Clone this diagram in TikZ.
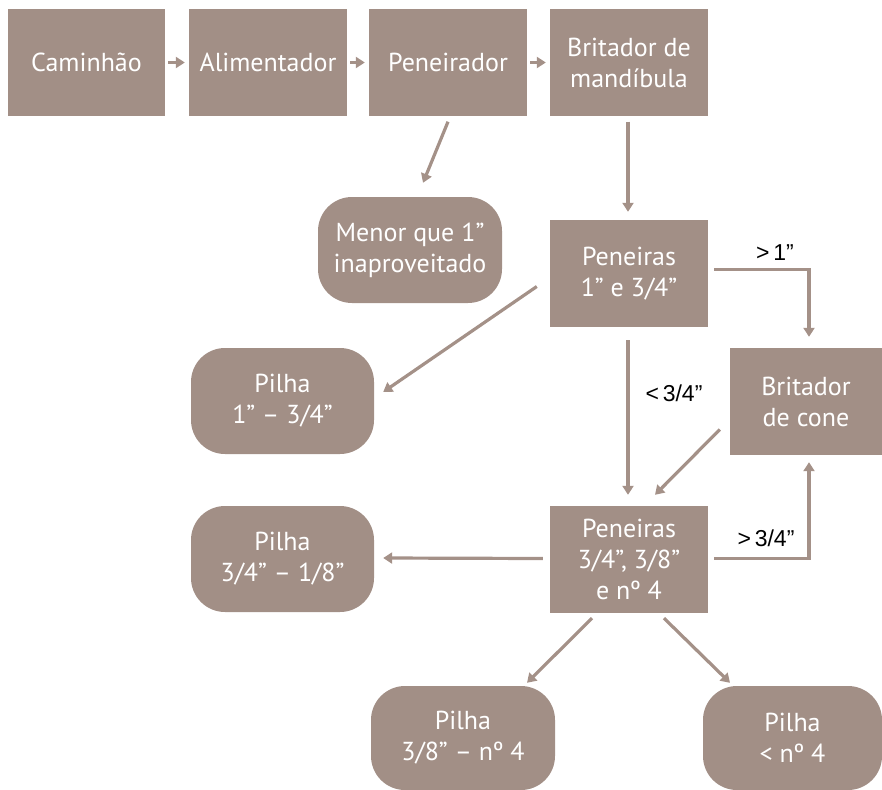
\documentclass[tikz,border=0pt]{standalone}
\usepackage{fontspec}
\setmainfont{PT Sans}
\newfontfamily\lblfont{Liberation Sans}
\usetikzlibrary{arrows.meta}
\definecolor{boxc}{RGB}{162,143,134}
\definecolor{arrc}{RGB}{164,145,136}
\begin{document}
\begin{tikzpicture}[x=1pt,y=-1pt,
  box/.style={rectangle,fill=boxc,text=white,align=center,inner sep=0pt,
    font=\fontsize{26}{31}\selectfont},
  rbox/.style={box,rounded corners=34pt},
  arr/.style={draw=arrc,line width=3.2pt,-{Triangle[length=9pt,width=11pt]}},
  lbl/.style={text=black,font=\lblfont\fontsize{23}{28}\selectfont,inner sep=0pt}]
\useasboundingbox (0,0) rectangle (882,789);
\node[box,minimum width=157pt,minimum height=106pt] (cam) at (86.5,62.5) {Caminhão};
\node[box,minimum width=158pt,minimum height=106pt] (ali) at (268,62.5) {Alimentador};
\node[box,minimum width=158pt,minimum height=106pt] (pen) at (448,62.5) {Peneirador};
\node[box,minimum width=158pt,minimum height=106pt] (brm) at (629,62.5) {Britador de\\mandíbula};
\node[rbox,minimum width=184pt,minimum height=106pt] (menor) at (410,250) {Menor que 1”\\inaproveitado};
\node[box,minimum width=158pt,minimum height=107pt] (pen1) at (629,273.5) {Peneiras\\1” e 3/4”};
\node[rbox,minimum width=183pt,minimum height=106pt] (pil1) at (282.5,401) {Pilha\\1” – 3/4”};
\node[box,minimum width=152pt,minimum height=107pt] (cone) at (806,401.5) {Britador\\de cone};
\node[box,minimum width=158pt,minimum height=107pt] (pen2) at (629,559.5) {Peneiras\\3/4”, 3/8”\\e nº 4};
\node[rbox,minimum width=183pt,minimum height=106pt] (pil2) at (282.5,559) {Pilha\\3/4” – 1/8”};
\node[rbox,minimum width=184pt,minimum height=104pt] (pil3) at (463,738) {Pilha\\3/8” – nº 4};
\node[rbox,minimum width=179pt,minimum height=104pt] (pil4) at (792.5,738) {Pilha\\< nº 4};

\draw[arr] ([xshift=3pt]cam.east) -- ([xshift=-4pt]ali.west);
\draw[arr] ([xshift=3pt]ali.east) -- ([xshift=-4pt]pen.west);
\draw[arr] ([xshift=3pt]pen.east) -- ([xshift=-4pt]brm.west);
\draw[arr] ([yshift=-6pt]pen.south) -- ([xshift=13pt,yshift=14pt]menor.north);
\draw[arr] ([xshift=-1pt,yshift=-6pt]brm.south) -- ([xshift=-1pt,yshift=8pt]pen1.north);
\draw[arr] ([xshift=-13pt,yshift=-13pt]pen1.west) -- ([xshift=9pt,yshift=9pt]pil1.east);
\draw[arr] ([xshift=6pt,yshift=4pt]pen1.east) -| ([xshift=3pt,yshift=11pt]cone.north);
\draw[arr] ([xshift=-1pt,yshift=-13pt]pen1.south) -- ([xshift=-1pt,yshift=11pt]pen2.north);
\draw[arr] ([xshift=-10pt,yshift=-28pt]cone.west) -- ([xshift=26pt,yshift=11pt]pen2.north);
\draw[arr] ([xshift=6pt,yshift=1pt]pen2.east) -| ([xshift=3pt,yshift=-7pt]cone.south);
\draw[arr] ([xshift=-7pt,yshift=1pt]pen2.west) -- ([xshift=9pt,yshift=1pt]pil2.east);
\draw[arr] ([xshift=-37pt,yshift=-5pt]pen2.south) -- ([xshift=64pt,yshift=3pt]pil3.north);
\draw[arr] ([xshift=35pt,yshift=-5pt]pen2.south) -- ([xshift=-62.5pt,yshift=3pt]pil4.north);

\node[lbl] (l1) at (775,253) {>\,1”};
\node[lbl] (l2) at (674,393) {<\,3/4”};
\node[lbl] (l3) at (766,538) {>\,3/4”};
\end{tikzpicture}
\end{document}
